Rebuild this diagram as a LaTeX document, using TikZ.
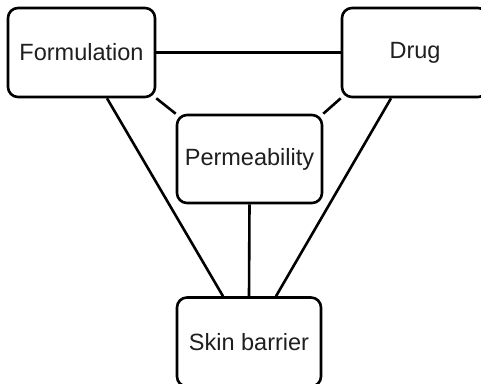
\documentclass[tikz,border=0pt]{standalone}
\usepackage{fontspec}
\setmainfont{Liberation Sans}
\usetikzlibrary{backgrounds}
\begin{document}
\begin{tikzpicture}[x=1pt,y=-1pt,
  box/.style={draw=black, line width=2.6pt, rounded corners=10pt, fill=white,
    inner sep=0pt, font=\fontsize{23.5}{26}\selectfont, text=black!88},
  link/.style={draw=black, line width=2.6pt}]
  \useasboundingbox (0,0) rectangle (481,383);
  \clip (0,0) rectangle (481,383);

  % four factor boxes
  \node[box, minimum width=147pt, minimum height=89pt] (F) at (81.5,52.5) {Formulation};
  \node[box, minimum width=146pt, minimum height=89pt] (D) at (415,52.5) {Drug};
  \node[box, minimum width=145pt, minimum height=88pt] (P) at (249.5,159) {Permeability};
  \node[box, minimum width=144pt, minimum height=89pt] (S) at (249,342) {Skin barrier};

  % connections, kept beneath the boxes so they stop at the rounded borders
  \begin{scope}[on background layer]
    \fill[white] (0,0) rectangle (481,383);
    \path[link] (F.east) -- (D.west);
    \path[link] (F.south east) -- (P.north west);
    \path[link] (D.south west) -- (P.north east);
    \path[link] (P.south) -- (S.north);
    \path[link] ([xshift=25.5pt]F.south) -- ([xshift=-26pt]S.north);
    \path[link] ([xshift=-24pt]D.south) -- ([xshift=27pt]S.north);
  \end{scope}
\end{tikzpicture}
\end{document}
